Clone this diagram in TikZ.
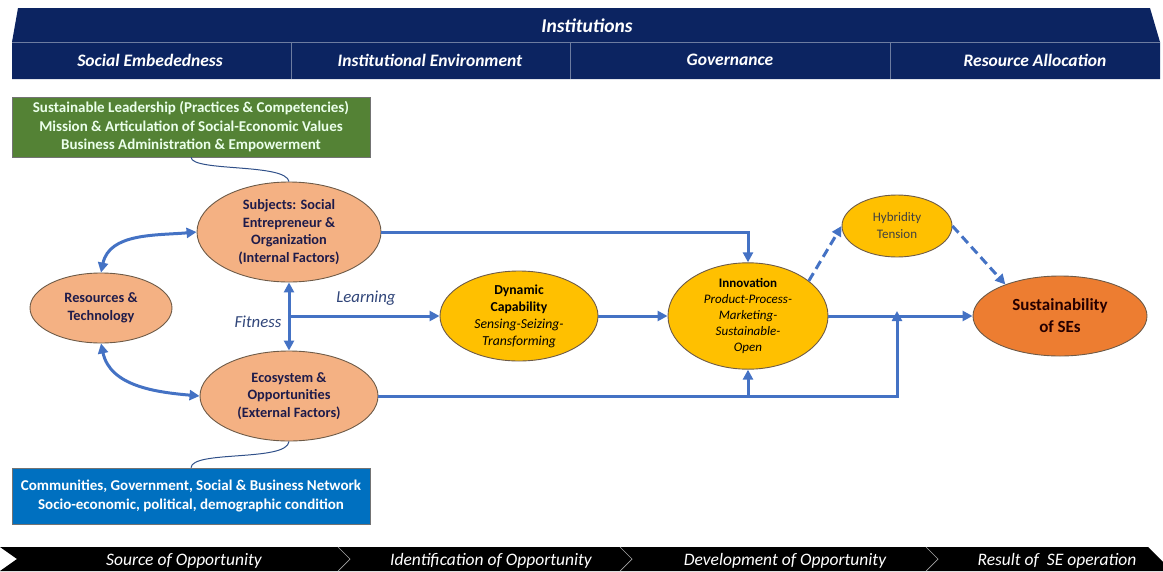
\documentclass[tikz,border=0pt]{standalone}
\usepackage{fontspec}
\setmainfont{Carlito}
\usetikzlibrary{shapes.geometric,arrows.meta}
\definecolor{navy}{HTML}{0C2461}
\definecolor{leafgreen}{HTML}{548235}
\definecolor{seablue}{HTML}{0070C0}
\definecolor{peach}{HTML}{F4B183}
\definecolor{gold}{HTML}{FFC000}
\definecolor{pumpkin}{HTML}{ED7D31}
\definecolor{linkblue}{HTML}{4472C4}
\definecolor{rim}{HTML}{6E5B48}
\definecolor{darkink}{HTML}{1E1B4A}
\tikzset{
 factor/.style={ellipse,draw=rim,line width=.9pt,fill=peach,inner sep=0pt,align=center,
   text=darkink,font=\fontsize{14.3}{17.7}\selectfont\bfseries},
 capab/.style={factor,fill=gold,text=black,font=\fontsize{13.7}{17}\selectfont},
 panel/.style={draw=black!55,line width=.6pt,minimum width=358pt,minimum height=60pt,
   align=center,font=\fontsize{15}{18.5}\selectfont\bfseries},
 flow/.style={draw=linkblue,line width=3pt,-{Triangle[length=10pt,width=10pt]}},
 twoway/.style={flow,{Triangle[length=10pt,width=10pt]}-{Triangle[length=10pt,width=10pt]}},
 hint/.style={flow,dash pattern=on 9pt off 5pt},
 tether/.style={draw=linkblue!70!black,line width=1pt},
 rule/.style={draw=navy!60!white,line width=.6pt},
 headtxt/.style={text=white,font=\fontsize{17.5}{20}\selectfont\bfseries\itshape},
 stagetxt/.style={text=white,font=\fontsize{17.5}{20}\selectfont\itshape},
 lbl/.style={text=navy!85,font=\fontsize{16.8}{19}\selectfont\itshape},
}

\begin{document}
\begin{tikzpicture}[x=1pt,y=-1pt]
  \useasboundingbox (0,0) rectangle (1163,571);

  % institutions banner
  \fill[navy] (18,8) -- (1150,8) -- (1160,42) -- (1160,79) -- (12,79) -- (12,42) -- cycle;
  \draw[rule] (12,42) -- (1160,42);
  \foreach \x in {291,570,890}
    \draw[rule] (\x,42) -- (\x,79);
  \node[headtxt,font=\fontsize{19.5}{22}\selectfont\bfseries\itshape] (inst) at (587,26) {Institutions};
  \node[headtxt] (embed) at (150,60) {Social Embededness};
  \node[headtxt] (envir) at (430,60) {Institutional Environment};
  \node[headtxt] (gov) at (730,60) {Governance};
  \node[headtxt] (alloc) at (1035,60) {Resource Allocation};

  % internal and external boxes
  \node[panel,fill=leafgreen,text=green!8!white] (lead) at (191,127)
    {Sustainable Leadership (Practices \& Competencies)\\
     Mission \& Articulation of Social-Economic Values\\
     Business Administration \& Empowerment};
  \node[panel,fill=seablue,text=white,minimum height=56pt] (net) at (191,496)
    {Communities, Government, Social \& Business Network\\
     Socio-economic, political, demographic condition};

  % factors
  \node[factor,minimum width=184pt,minimum height=100pt] (subj) at (289,232)
    {Subjects: Social\\Entrepreneur \&\\Organization\\(Internal Factors)};
  \node[factor,minimum width=142pt,minimum height=70pt] (res) at (101,308)
    {Resources \&\\Technology};
  \node[factor,minimum width=178pt,minimum height=90pt] (eco) at (289,396)
    {Ecosystem \&\\Opportunities\\(External Factors)};

  % capabilities and outcome
  \node[capab,minimum width=158pt,minimum height=90pt] (dyn) at (519,316)
    {\textbf{Dynamic}\\\textbf{Capability}\\\textit{Sensing-Seizing-}\\\textit{Transforming}};
  \node[capab,minimum width=160pt,minimum height=92pt,font=\fontsize{13}{16}\selectfont] (innov) at (748,316)
    {\textbf{Innovation}\\\textit{Product-Process-}\\\textit{Marketing-}\\\textit{Sustainable-}\\\textit{Open}};
  \node[capab,minimum width=110pt,minimum height=62pt,font=\fontsize{13}{17}\selectfont,text=black!75] (hyb) at (897,226)
    {Hybridity\\Tension};
  \node[factor,fill=pumpkin,text=black!85!red,minimum width=174pt,minimum height=80pt,
    font=\fontsize{17}{22}\selectfont\bfseries] (sust) at (1060,316)
    {Sustainability\\of SEs};

  % thin ties to the boxes
  \draw[tether] (lead.south) .. controls (192,172) and (286,163) .. (subj.north);
  \draw[tether] (eco.south) .. controls (287,462) and (192,450) .. (net.north);

  % connectors
  \draw[twoway] (res.north) to[out=78,in=185] (subj.west);
  \draw[twoway] (res.south) to[out=-78,in=175] (eco.west);
  \draw[twoway] (subj.south) -- (eco.north);
  \coordinate (split) at (subj.south |- dyn.west);
  \draw[flow] (split) -- (dyn.west);
  \node[lbl] (learn) at (366,298) {Learning};
  \node[lbl] (fit) at (258,322) {Fitness};
  \draw[flow] (dyn.east) -- (innov.west);
  \draw[flow] (subj.east) -| (innov.north);
  \draw[flow] (eco.east) -| ([yshift=5pt]hyb.south |- sust.west);
  \draw[flow] (innov.south |- eco.east) -- (innov.south);
  \draw[flow] (innov.east) -- (sust.west);
  \draw[hint] (innov.30) -- (hyb.west);
  \draw[hint] (hyb.east) -- (sust.150);

  % opportunity stages
  \fill[black] (0,547) -- (1148,547) -- (1163,562) -- (1163,571) -- (0,571) -- (17,559) -- cycle;
  \foreach \x in {344,626,932}
    \draw[gray!70,line width=.7pt] (\x-6,547) -- (\x+6,559) -- (\x-6,571);
  \node[stagetxt] (src) at (184,561) {Source of Opportunity};
  \node[stagetxt] (ident) at (491,561) {Identification of Opportunity};
  \node[stagetxt] (devel) at (785,561) {Development of Opportunity};
  \node[stagetxt] (result) at (1057,561) {Result of\ \ SE operation};
\end{tikzpicture}
\end{document}
